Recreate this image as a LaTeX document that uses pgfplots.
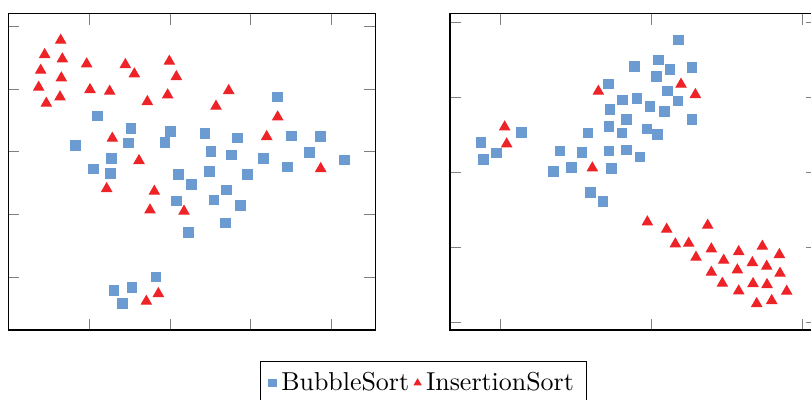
\documentclass[border=0pt]{standalone}
\usepackage{pgfplots}
\pgfplotsset{compat=1.18}
\definecolor{bluem}{RGB}{108,155,209}
\definecolor{redm}{RGB}{237,35,40}
\begin{document}
\begin{tikzpicture}
\pgfplotsset{
  every axis/.append style={
    x=0.12867pt, y=0.12867pt,
    xticklabels={}, yticklabels={},
    anchor=south west,
  },
  bub/.style={only marks, mark=square*, mark size=1.9pt, color=bluem},
  ins/.style={only marks, mark=triangle*, mark size=2.2pt, color=redm},
}
\begin{axis}[
  at={(3.216pt,27.02pt)},
  xmin=25, xmax=1125, ymin=-990, ymax=-42,
  xtick={267,510,752,995},
  ytick={-831,-643,-455,-267,-78},
  legend columns=2,
  legend style={at={(1.1331,-0.0981)}, anchor=north, draw=black},
  legend image post style={mark size=1.45pt},
]
\addplot[bub] coordinates {
(832,-291) (292,-348) (393,-386) (512,-395) (615,-401) (713,-414) (874,-408)
(962,-410) (226,-437) (385,-429) (495,-428) (633,-455) (695,-465) (928,-457)
(334,-476) (791,-476) (1033,-480) (280,-507) (331,-520) (535,-523) (629,-515)
(742,-524) (863,-501) (574,-553) (679,-570) (529,-603) (642,-600) (722,-617)
(677,-669) (566,-697) (468,-831) (396,-862) (342,-871) (367,-911)
};
\addlegendentry{BubbleSort}
\addplot[ins] coordinates {
(182,-121) (134,-164) (187,-177) (122,-211) (260,-192) (376,-194) (403,-222)
(508,-184) (529,-230) (184,-234) (116,-262) (270,-269) (329,-274) (180,-291)
(139,-310) (442,-305) (503,-285) (686,-272) (648,-319) (833,-351) (337,-415)
(800,-410) (417,-482) (962,-506) (320,-566) (463,-574) (450,-630) (552,-634)
(475,-881) (439,-904)
};
\addlegendentry{InsertionSort}
\end{axis}
\begin{axis}[
  at={(173.7pt,27.02pt)},
  xmin=90, xmax=1190, ymin=-990, ymax=-42,
  xtick={241,695,1148},
  ytick={-968,-743,-518,-292,-67},
]
\addplot[bub] coordinates {
(775,-120) (716,-180) (644,-200) (750,-209) (816,-203) (710,-230) (566,-252)
(742,-273) (608,-300) (651,-296) (774,-303) (570,-328) (690,-319) (734,-334)
(619,-359) (816,-358) (567,-379) (681,-387) (606,-399) (712,-404) (504,-399)
(304,-398) (183,-428) (420,-453) (486,-458) (567,-453) (619,-450) (660,-471)
(230,-459) (191,-478) (400,-514) (455,-503) (575,-505) (512,-577) (549,-604)
};
\addplot[ins] coordinates {
(535,-274) (783,-253) (826,-284) (254,-381) (260,-432) (517,-504) (682,-666)
(740,-688) (863,-676) (766,-732) (806,-730) (874,-747) (828,-772) (956,-755)
(1027,-739) (1078,-764) (911,-781) (997,-788) (1040,-799) (874,-817) (952,-810)
(1080,-820) (907,-850) (999,-851) (1041,-854) (956,-873) (1100,-874) (1055,-902)
(1010,-911)
};
\end{axis}
\pgfresetboundingbox
\useasboundingbox (0,0) rectangle (313.05pt,154.4pt);
\end{tikzpicture}
\end{document}
